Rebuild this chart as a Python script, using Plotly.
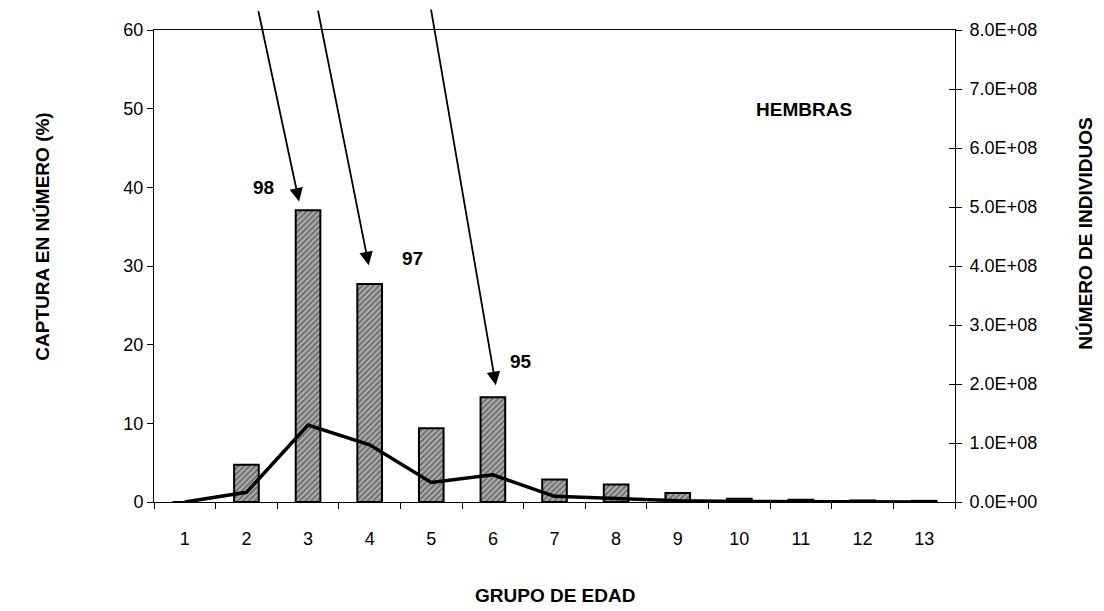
import plotly.graph_objects as go

# ---- data ----
grupos = list(range(1, 14))
grupo_labels = [str(g) for g in grupos]
captura_pct = [0.0, 4.72, 37.1, 27.7, 9.37, 13.3, 2.85, 2.24, 1.14, 0.42, 0.29, 0.2, 0.15]
num_individuos = [0.0, 1.64e7, 1.305e8, 9.7e7, 3.3e7, 4.6e7, 9.6e6, 5.6e6, 2.2e6, 1.0e6, 5e5, 3e5, 2e5]
left_ticks = [0, 10, 20, 30, 40, 50, 60]
right_ticks = [i * 1e8 for i in range(9)]
right_labels = [f"{v:.1E}" for v in right_ticks]
cohort_labels = ["98", "97", "95"]

FONT = "Liberation Sans, Arial, sans-serif"
TICK = 18
TITLE = 19

fig = go.Figure()
fig.add_trace(go.Bar(
    x=grupos, y=captura_pct, width=0.4,
    marker=dict(color="#8a8a8a",
                line=dict(color="black", width=2),
                pattern=dict(shape="/", fgcolor="#2a2a2a", bgcolor="#b0b0b0",
                             size=4, solidity=0.5)),
    showlegend=False, yaxis="y",
))
fig.add_trace(go.Scatter(
    x=grupos, y=num_individuos, mode="lines",
    line=dict(color="black", width=3.5),
    showlegend=False, yaxis="y2",
))
# empty trace to register an overlay axis that draws the inner half of the right ticks
fig.add_trace(go.Scatter(x=[None], y=[None], mode="lines", showlegend=False,
                         hoverinfo="skip", yaxis="y3"))

fig.update_layout(
    width=1104, height=611,
    margin=dict(l=146, r=157, t=20, b=117),
    paper_bgcolor="white", plot_bgcolor="white",
    font=dict(family=FONT, size=TICK, color="black"),
    xaxis=dict(
        range=[0.5, 13.5], tickmode="array", tickvals=grupos, ticktext=grupo_labels,
        ticks="", showgrid=False, zeroline=False,
        showline=True, linecolor="black", linewidth=1, mirror=True,
        ticklabelstandoff=20,
        tickfont=dict(size=TICK),
        minor=dict(tickmode="array", tickvals=[g + 0.5 for g in range(0, 14)],
                   ticks="outside", ticklen=6, tickcolor="black", tickwidth=1,
                   showgrid=False),
    ),
    yaxis=dict(
        range=[0, 60], tickmode="array", tickvals=left_ticks,
        ticks="outside", ticklen=6, tickcolor="black",
        showgrid=False, zeroline=False,
        showline=True, linecolor="black", linewidth=1,
        tickfont=dict(size=TICK),
    ),
    yaxis2=dict(
        range=[0, 8e8], overlaying="y", side="right",
        tickmode="array", tickvals=right_ticks, ticktext=right_labels,
        ticks="outside", ticklen=6, tickcolor="black",
        showgrid=False, zeroline=False,
        showline=True, linecolor="black", linewidth=1,
        ticklabelstandoff=4,
        tickfont=dict(size=TICK),
    ),
    yaxis3=dict(
        range=[0, 8e8], overlaying="y", side="right",
        tickmode="array", tickvals=right_ticks,
        ticks="inside", ticklen=6, tickcolor="black",
        showticklabels=False, showgrid=False, zeroline=False, showline=False,
    ),
)

# cohort labels and arrows
label_pos = [(2.27, 40.0), (4.69, 31.0), (6.46, 17.85)]
tips = [(2.854, 38.2), (3.985, 30.1), (6.047, 14.85)]
tails = [(-41, -192), (-51, -256), (-65, -377)]
for txt, (lx, ly) in zip(cohort_labels, label_pos):
    fig.add_annotation(x=lx, y=ly, xref="x", yref="y", text=f"<b>{txt}</b>",
                       showarrow=False, font=dict(size=TITLE))
for (tx, ty), (ax, ay) in zip(tips, tails):
    fig.add_annotation(x=tx, y=ty, xref="x", yref="y", text="", showarrow=True,
                       ax=ax, ay=ay, arrowhead=2, arrowsize=1.5, arrowwidth=1.8,
                       arrowcolor="black")

fig.add_annotation(x=11.05, y=49.9, xref="x", yref="y", text="<b>HEMBRAS</b>",
                   showarrow=False, font=dict(size=TITLE))

# axis titles
fig.add_annotation(x=(22 - 146) / 801, y=0.561, xref="paper", yref="paper",
                   text="<b>CAPTURA EN NÚMERO (%)</b>",
                   showarrow=False, textangle=-90, font=dict(size=TITLE))
fig.add_annotation(x=(1090 - 146) / 801, y=0.5675, xref="paper", yref="paper",
                   text="<b>NÚMERO DE INDIVIDUOS</b>",
                   showarrow=False, textangle=-90, font=dict(size=TITLE))
fig.add_annotation(x=0.5, y=(494 - 600) / 474, xref="paper", yref="paper",
                   text="<b>GRUPO DE EDAD</b>",
                   showarrow=False, font=dict(size=TITLE))

fig.write_html("out.html")
